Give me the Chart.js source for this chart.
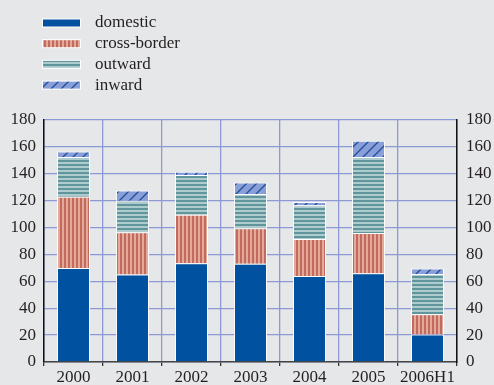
<!DOCTYPE html>
<html>
<head>
<meta charset="utf-8">
<script src="https://cdn.jsdelivr.net/npm/chart.js@4/dist/chart.umd.min.js"></script>
<style>
  body { margin: 0; background: #e6e7e9; }
  #wrap { width: 494px; height: 385px; }
</style>
</head>
<body>
<div id="wrap"><canvas id="chartDeals"></canvas></div>
<script>
// values
const categories = ['2000', '2001', '2002', '2003', '2004', '2005', '2006H1'];
const domestic = [70, 65, 73.5, 73, 64, 66, 20.5];
const crossBorder = [53, 31.5, 36, 26.5, 27.5, 30, 15];
const outward = [29.5, 23.5, 29.5, 25.5, 25, 56.5, 30];
const inward = [4, 7.5, 2.5, 8.5, 2.5, 12, 4];
const yTicks = [0, 20, 40, 60, 80, 100, 120, 140, 160, 180];

const serif = '"Liberation Serif", "Times New Roman", serif';

// striped fills
function makePattern(w, h, paint) {
    const c = document.createElement('canvas');
    c.width = w;
    c.height = h;
    paint(c.getContext('2d'));
    return c.getContext('2d').createPattern(c, 'repeat');
}

const crossFill = makePattern(4, 4, function (p) {
    p.fillStyle = '#e3a999';
    p.fillRect(0, 0, 4, 4);
    p.fillStyle = '#c16a5d';
    p.fillRect(0, 0, 2, 4);
});

const outwardFill = makePattern(4, 4, function (p) {
    p.fillStyle = '#aecbcd';
    p.fillRect(0, 0, 4, 4);
    p.fillStyle = '#5f959b';
    p.fillRect(0, 0, 4, 2);
});

const inwardFill = makePattern(10, 10, function (p) {
    p.fillStyle = '#8a9fd8';
    p.fillRect(0, 0, 10, 10);
    p.strokeStyle = '#1d4f9e';
    p.lineWidth = 1.3;
    p.beginPath();
    p.moveTo(0, 10); p.lineTo(10, 0);
    p.moveTo(-5, 5); p.lineTo(5, -5);
    p.moveTo(5, 15); p.lineTo(15, 5);
    p.stroke();
});

const barStyle = {
    borderColor: '#ffffff',
    borderWidth: 1,
    barPercentage: 0.56,
    categoryPercentage: 1,
    yAxisID: 'y'
};

const dataDeals = {
    labels: categories,
    datasets: [
        Object.assign({ label: 'domestic', data: domestic, backgroundColor: '#00519f' }, barStyle),
        Object.assign({ label: 'cross-border', data: crossBorder, backgroundColor: crossFill }, barStyle),
        Object.assign({ label: 'outward', data: outward, backgroundColor: outwardFill }, barStyle),
        Object.assign({ label: 'inward', data: inward, backgroundColor: inwardFill }, barStyle)
    ]
};

// page background
const bgPlugin = {
    id: 'bg',
    beforeDraw(chart) {
        const ctx = chart.ctx;
        ctx.save();
        ctx.fillStyle = '#e6e7e9';
        ctx.fillRect(0, 0, chart.width, chart.height);
        ctx.restore();
    }
};

// one legend entry per row, top left
const listLegend = {
    id: 'listLegend',
    afterDraw(chart) {
        const ctx = chart.ctx;
        ctx.save();
        chart.data.datasets.forEach(function (ds, i) {
            const y = 23 + i * 20.7;
            ctx.fillStyle = '#ffffff';
            ctx.fillRect(42, y - 4.5, 39, 9);
            ctx.fillStyle = ds.backgroundColor;
            ctx.fillRect(43, y - 3.5, 37, 7);
            ctx.fillStyle = '#231f20';
            ctx.font = '17px ' + serif;
            ctx.textBaseline = 'middle';
            ctx.fillText(ds.label, 95, y);
        });
        ctx.restore();
    }
};

const gridColor = '#8d99d5';

const configDeals = {
    type: 'bar',
    data: dataDeals,
    plugins: [bgPlugin, listLegend],
    options: {
        responsive: true,
        maintainAspectRatio: false,
        animation: false,
        layout: {
            padding: { top: 120, right: 0, bottom: 0, left: 0 }
        },
        scales: {
            x: {
                stacked: true,
                grid: {
                    color: gridColor,
                    lineWidth: 1.3,
                    offset: true,
                    tickColor: '#333',
                    tickLength: 4
                },
                border: { display: true, color: '#444', width: 1.5 },
                ticks: {
                    color: '#231f20',
                    font: { family: serif, size: 17 },
                    padding: 1,
                    maxRotation: 0,
                    autoSkip: false
                },
                afterFit: function (scale) { scale.height = 23; }
            },
            y: {
                stacked: true,
                position: 'left',
                min: 0,
                max: 180,
                grid: { color: gridColor, lineWidth: 1.3, drawTicks: false },
                border: { display: true, color: '#111', width: 1.5 },
                ticks: {
                    stepSize: 20,
                    padding: 8,
                    color: '#231f20',
                    font: { family: serif, size: 17 }
                },
                afterBuildTicks: function (scale) {
                    scale.ticks = yTicks.map(function (v) { return { value: v }; });
                },
                afterFit: function (scale) { scale.width = 44; }
            },
            y2: {
                position: 'right',
                min: 0,
                max: 180,
                grid: { display: false, drawTicks: false },
                border: { display: true, color: '#111', width: 1.5 },
                ticks: {
                    stepSize: 20,
                    padding: 9,
                    color: '#231f20',
                    font: { family: serif, size: 17 }
                },
                afterBuildTicks: function (scale) {
                    scale.ticks = yTicks.map(function (v) { return { value: v }; });
                },
                afterFit: function (scale) { scale.width = 37; }
            }
        },
        plugins: {
            legend: { display: false },
            tooltip: { enabled: false }
        }
    }
};

var chartDeals = new Chart(
    document.getElementById('chartDeals'),
    configDeals
);
</script>
</body>
</html>
